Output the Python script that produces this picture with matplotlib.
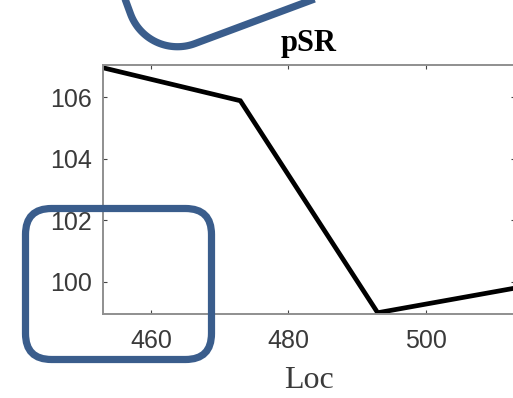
import numpy as np
import matplotlib
matplotlib.use('Agg')
import matplotlib.pyplot as plt
from matplotlib.patches import FancyBboxPatch

# pSR vs Loc
loc = [453, 473, 493, 513]
psr = [106.95, 105.88, 99.0, 99.8]
xticks = [460, 480, 500]
yticks = [100, 102, 104, 106]

blue = '#3a5d8c'
grey = '#8f8f8f'
txt = '#3a3a3a'

fig = plt.figure(figsize=(5.13, 3.98), dpi=100)
ax = fig.add_axes([0.2008, 0.2111, 0.8031, 0.6256])

ax.plot(loc, psr, color='black', lw=3.4, solid_joinstyle='miter')
ax.set_xlim(loc[0], loc[-1])
ax.set_ylim(98.96, 107.04)
ax.set_xticks(xticks)
ax.set_yticks(yticks)

for s in ax.spines.values():
	s.set_color(grey)
	s.set_linewidth(1.4)
ax.tick_params(direction='in', length=3, width=0.8, color='#444444',
	top=True, right=True, labelsize=18, labelcolor=txt, pad=8)
ax.tick_params(axis='x', pad=11)
for lab in ax.get_xticklabels() + ax.get_yticklabels():
	lab.set_family('Liberation Sans')

ax.set_title('pSR', fontfamily='Liberation Serif', fontweight='bold',
	fontsize=22, pad=10)
ax.set_xlabel('Loc', fontfamily='Liberation Serif', fontsize=23,
	color=txt, labelpad=9)

# overlay with the blue callout shapes, in pixel units
ov = fig.add_axes([0, 0, 1, 1])
ov.set_xlim(0, 513)
ov.set_ylim(398, 0)
ov.axis('off')
ov.patch.set_alpha(0)

box = FancyBboxPatch((25.5, 208.5), 186, 151,
	boxstyle='round,pad=0,rounding_size=26',
	fill=False, ec=blue, lw=5.2)
ov.add_patch(box)

# rotated rounded corner at the top
P = np.array([148, 61])
d_up = np.array([-0.347, -0.938])
d_right = np.array([0.937, -0.349])
r = 50
bis = d_up + d_right
bis = bis / np.linalg.norm(bis)
C = P + r * np.sqrt(2) * bis
t1 = P + r * d_up
t2 = P + r * d_right
a1 = np.arctan2(*(t1 - C)[::-1])
a2 = np.arctan2(*(t2 - C)[::-1])
da = (a2 - a1 + np.pi) % (2 * np.pi) - np.pi
ang = a1 + np.linspace(0, 1, 40) * da
arc = C + r * np.column_stack([np.cos(ang), np.sin(ang)])
start = P + 80 * d_up
end = P + 220 * d_right
pts = np.vstack([start, arc, end])
ov.plot(pts[:, 0], pts[:, 1], color=blue, lw=5.2, solid_capstyle='butt')

fig.savefig('out.png', dpi=100)
